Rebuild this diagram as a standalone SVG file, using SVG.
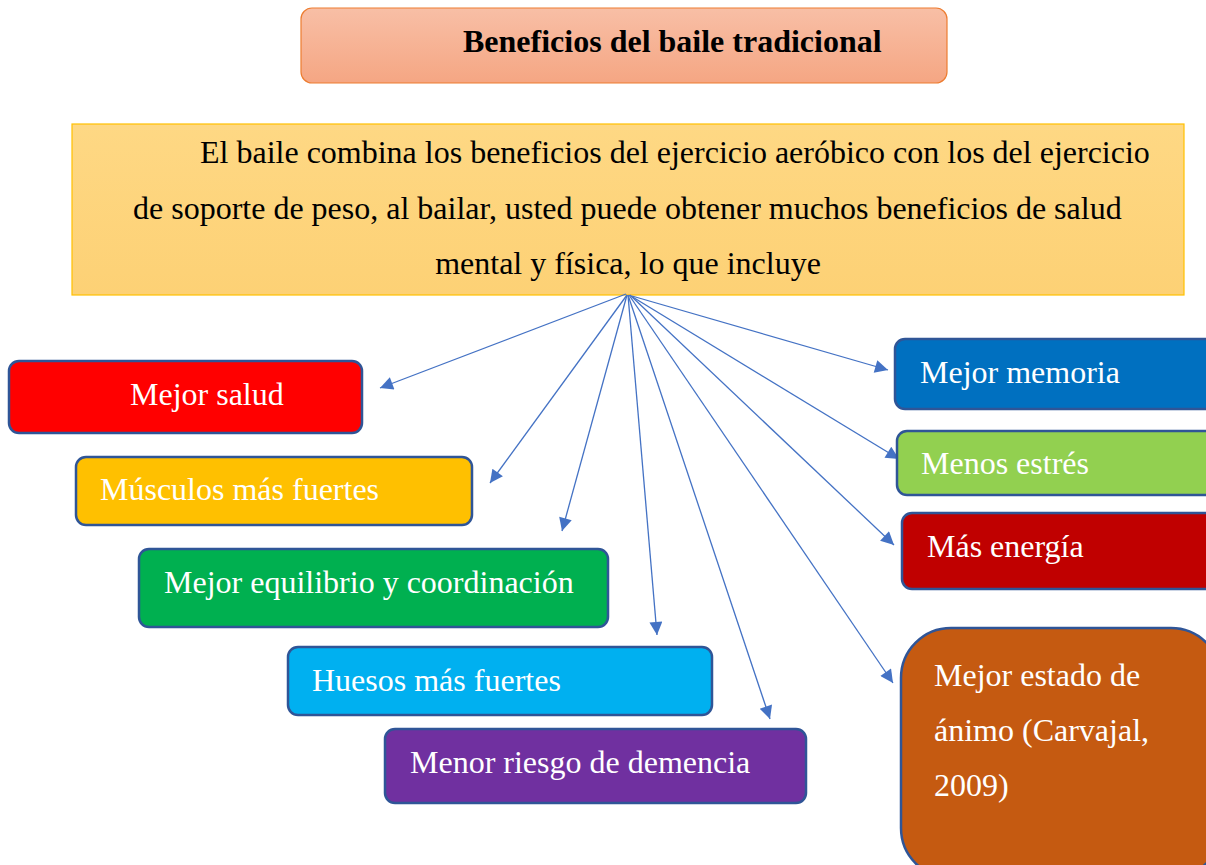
<svg xmlns="http://www.w3.org/2000/svg" width="1206" height="865" viewBox="0 0 1206 865">
<defs>
<linearGradient id="tg" x1="0" y1="0" x2="0" y2="1"><stop offset="0" stop-color="#f8bfa6"/><stop offset="1" stop-color="#f5a683"/></linearGradient>
<linearGradient id="yg" x1="0" y1="0" x2="0" y2="1"><stop offset="0" stop-color="#fed884"/><stop offset="1" stop-color="#fdd175"/></linearGradient>
<marker id="ah" viewBox="0 0 10 10" refX="10" refY="5" markerWidth="17" markerHeight="13" markerUnits="userSpaceOnUse" orient="auto"><path d="M0,0 L10,5 L0,10 z" fill="#4472c4"/></marker>
</defs>
<style>
.nb{stroke:#2f5597;stroke-width:2.5}
.nt{font-family:"Liberation Serif",serif;font-size:32px;fill:#ffffff}
.bt{font-family:"Liberation Serif",serif;font-size:32px;fill:#000000}
.cn{stroke:#4472c4;stroke-width:1.3;fill:none;marker-end:url(#ah)}
</style>
<rect width="1206" height="865" fill="#ffffff"/>
<g id="title">
<rect x="301" y="8" width="646" height="75" rx="11" fill="url(#tg)" stroke="#ed7d31" stroke-width="1.2"/>
<text x="463" y="52" font-family="Liberation Serif,serif" font-size="32" font-weight="bold" fill="#000">Beneficios del baile tradicional</text>
</g>
<g id="intro">
<rect x="72" y="124" width="1112" height="171" fill="url(#yg)" stroke="#ffc000" stroke-width="1.2"/>
<text class="bt" x="200" y="163">El baile combina los beneficios del ejercicio aeróbico con los del ejercicio</text>
<text class="bt" x="133" y="219">de soporte de peso, al bailar, usted puede obtener muchos beneficios de salud</text>
<text class="bt" x="628" y="274" text-anchor="middle">mental y física, lo que incluye</text>
</g>
<g id="connectors">
<line class="cn" x1="626" y1="294" x2="380" y2="388"/>
<line class="cn" x1="627" y1="295" x2="490" y2="483"/>
<line class="cn" x1="627" y1="295" x2="562" y2="531"/>
<line class="cn" x1="628" y1="295" x2="657" y2="635"/>
<line class="cn" x1="628" y1="295" x2="770" y2="719"/>
<line class="cn" x1="629" y1="295" x2="893" y2="683"/>
<line class="cn" x1="630" y1="295" x2="894" y2="545"/>
<line class="cn" x1="631" y1="296" x2="899" y2="459"/>
<line class="cn" x1="632" y1="296" x2="888" y2="370"/>
</g>
<g id="n-salud"><rect class="nb" x="9" y="361" width="353" height="72" rx="10" fill="#ff0000"/><text class="nt" x="130" y="405">Mejor salud</text></g>
<g id="n-musculos"><rect class="nb" x="76" y="457" width="396" height="68" rx="10" fill="#ffc000"/><text class="nt" x="100" y="500">Músculos más fuertes</text></g>
<g id="n-equilibrio"><rect class="nb" x="139" y="549" width="469" height="78" rx="10" fill="#00b050"/><text class="nt" x="164" y="593">Mejor equilibrio y coordinación</text></g>
<g id="n-huesos"><rect class="nb" x="288" y="647" width="424" height="68" rx="10" fill="#00b0f0"/><text class="nt" x="312" y="691">Huesos más fuertes</text></g>
<g id="n-demencia"><rect class="nb" x="385" y="729" width="421" height="74" rx="10" fill="#7030a0"/><text class="nt" x="410" y="773">Menor riesgo de demencia</text></g>
<g id="n-memoria"><rect class="nb" x="895" y="339" width="320" height="70" rx="10" fill="#0070c0"/><text class="nt" x="920" y="383">Mejor memoria</text></g>
<g id="n-estres"><rect class="nb" x="897" y="431" width="318" height="64" rx="10" fill="#92d050"/><text class="nt" x="921" y="474">Menos estrés</text></g>
<g id="n-energia"><rect class="nb" x="902" y="513" width="313" height="76" rx="10" fill="#c00000"/><text class="nt" x="927" y="557">Más energía</text></g>
<g id="n-animo"><rect class="nb" x="901" y="628" width="320" height="250" rx="50" fill="#c55a11"/><text class="nt" x="934" y="686">Mejor estado de</text><text class="nt" x="934" y="741">ánimo (Carvajal,</text><text class="nt" x="934" y="796">2009)</text></g>
</svg>
